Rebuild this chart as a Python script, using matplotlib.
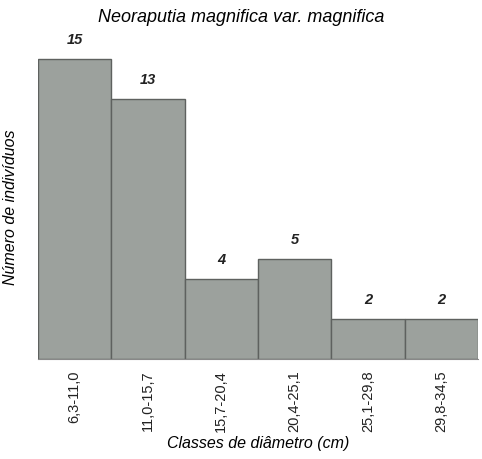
import matplotlib.pyplot as plt

# diameter classes and number of individuals
classes = ['6,3-11,0', '11,0-15,7', '15,7-20,4', '20,4-25,1', '25,1-29,8', '29,8-34,5']
counts = [15, 13, 4, 5, 2, 2]

plt.rcParams['font.family'] = ['Liberation Sans', 'DejaVu Sans']

fig = plt.figure(figsize=(4.82, 4.59), dpi=100)
ax = fig.add_axes([38/482, 100/459, 440/482, 330/459])

pos = list(range(len(classes)))
ax.bar(pos, counts, width=1.0, color='#9ca19d', edgecolor='#5e615f', linewidth=1.0)

# value labels above bars
for p, c in zip(pos, counts):
    ax.text(p, c + 0.6, str(c), ha='center', va='bottom', fontsize=10.5,
            style='italic', fontweight='bold', color='#222222')

ax.set_xlim(-0.5, len(classes) - 0.5)
ax.set_ylim(0, 16.5)
ax.set_yticks([])
ax.set_xticks(pos)
ax.set_xticklabels(classes, rotation=90, fontsize=10.5, color='#222222')
ax.tick_params(axis='x', length=0, pad=8)

for s in ['top', 'right', 'left']:
    ax.spines[s].set_visible(False)
ax.spines['bottom'].set_color('#888888')

ax.set_xlabel('Classes de diâmetro (cm)', style='italic', fontsize=11.5, labelpad=3)
ax.set_ylabel('Número de indivíduos', style='italic', fontsize=11.5)
ax.yaxis.set_label_coords(-0.045, 0.46)
fig.text(0.5, 1 - 17/459, 'Neoraputia magnifica var. magnifica', ha='center', va='center',
         style='italic', fontsize=13)

fig.savefig('out.png', dpi=100)
